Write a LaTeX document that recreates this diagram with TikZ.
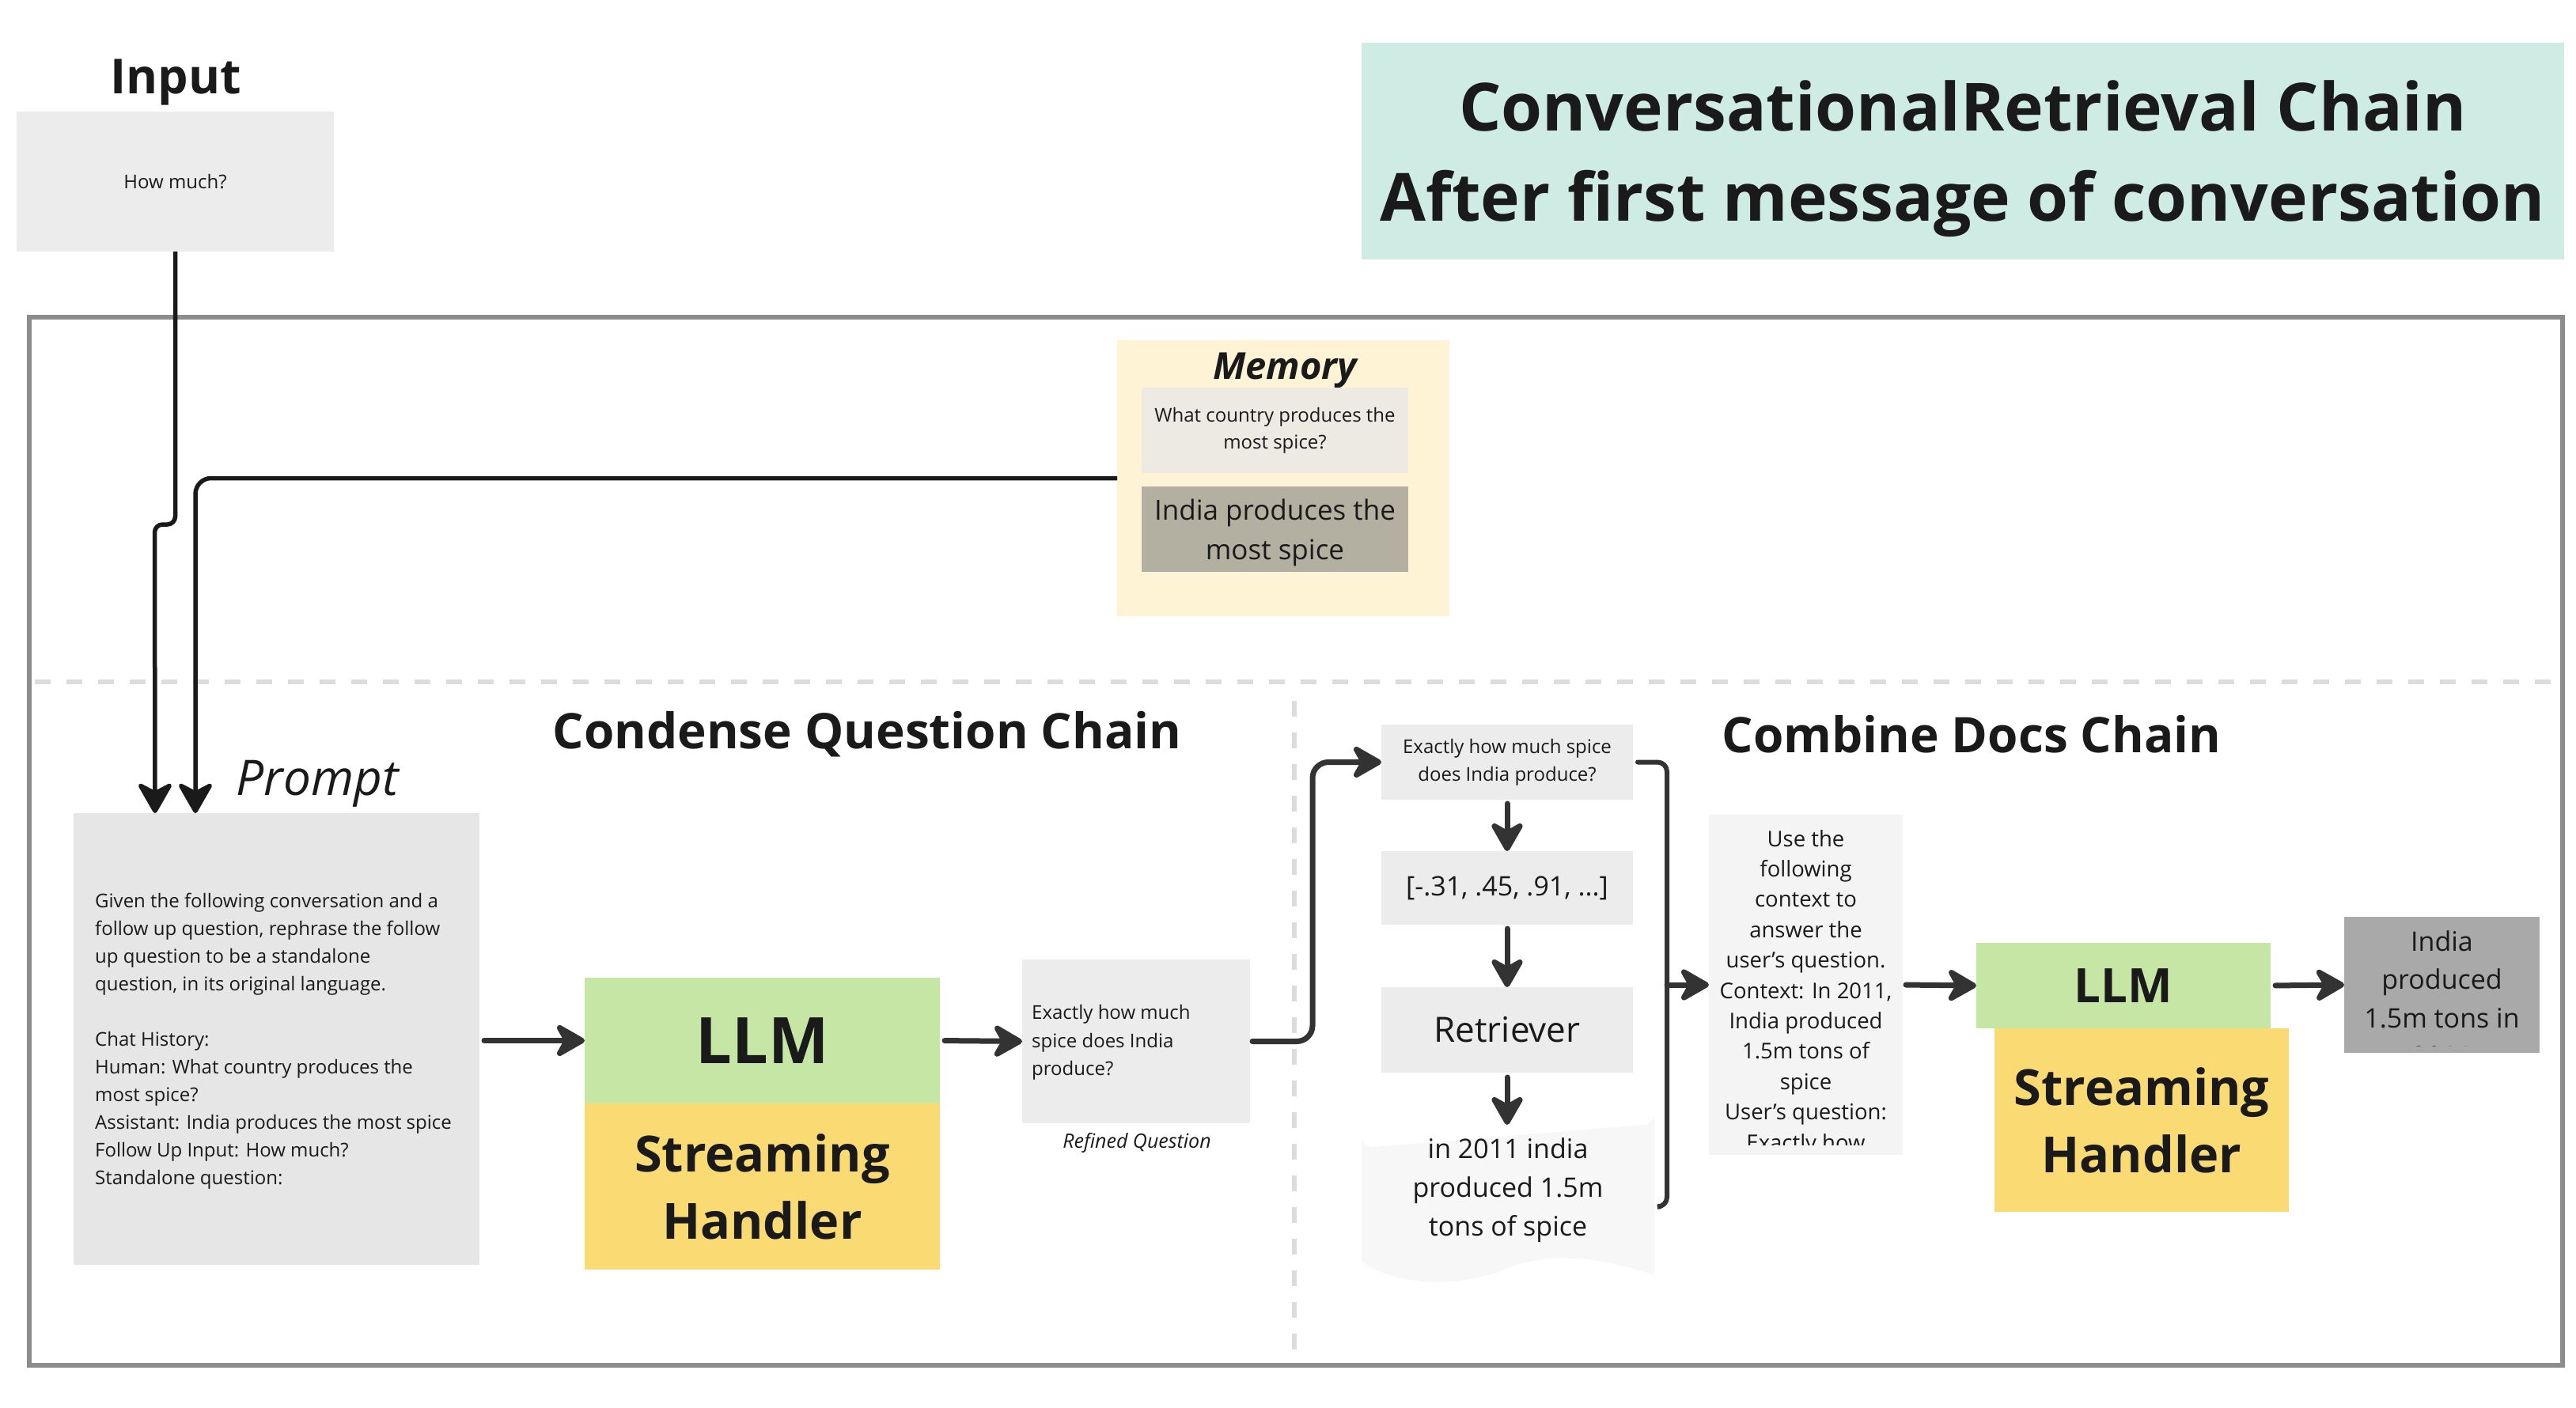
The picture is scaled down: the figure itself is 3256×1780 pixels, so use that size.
\documentclass[tikz,border=0pt]{standalone}
\usepackage{fontspec}
\setmainfont{Open Sans}
\usetikzlibrary{arrows.meta,calc}

\definecolor{inkc}{HTML}{1A1A1A}
\definecolor{arrowc}{HTML}{333333}
\definecolor{boxgray}{HTML}{ECECEC}
\definecolor{promptc}{HTML}{E6E6E6}
\definecolor{titlec}{HTML}{CFECE4}
\definecolor{memc}{HTML}{FEF3D5}
\definecolor{memqc}{HTML}{ECEAE2}
\definecolor{memac}{HTML}{B3B0A2}
\definecolor{llmc}{HTML}{C5E6A5}
\definecolor{streamc}{HTML}{FADA72}
\definecolor{docc}{HTML}{F7F7F7}
\definecolor{ctxc}{HTML}{F4F4F4}
\definecolor{outc}{HTML}{A9A9A9}
\definecolor{framec}{HTML}{8C8C8C}
\definecolor{dashc}{HTML}{DCDCDC}

\newcommand{\fs}[2]{\fontsize{#1}{#2}\selectfont}

\begin{document}
\begin{tikzpicture}[x=1pt,y=-1pt,
  every node/.style={text=inkc},
  box/.style={rectangle, inner sep=0pt, outer sep=0pt, draw=none},
  arr/.style={draw=arrowc, line width=7pt, line cap=round,
    -{Stealth[length=44pt,width=50pt,inset=14pt,round]}},
  thinarr/.style={draw=inkc, line width=5.5pt,
    -{Stealth[length=44pt,width=50pt,inset=13pt,round]}},
  plainline/.style={draw=arrowc, line width=7pt, line cap=round},
  hdr/.style={font=\fs{62}{70}\bfseries}
]
\useasboundingbox (0,0) rectangle (3256,1780);

% ---------- header ----------
\node[hdr, font=\fs{61}{70}\bfseries] (inlabel) at (222,104) {Input};
\node[box, fill=boxgray, minimum width=401pt, minimum height=177pt] (inbox) at (221.5,229.5) {\fs{24}{30}How much?};

\node[box, fill=titlec, minimum width=1520pt, minimum height=274pt] (title) at (2481,191) {};
\node[align=center, inner sep=0pt, font=\fs{84}{114}\bfseries] (titletext) at (2481,201)
  {ConversationalRetrieval Chain\\After first message of conversation};

% ---------- frame and separators ----------
\draw[framec, line width=6pt] (37,401) rectangle (3239,1726);
\draw[dashc, line width=6pt, dash pattern=on 20pt off 20pt] (44,862) -- (3232,862);
\draw[dashc, line width=6pt, dash pattern=on 20pt off 20pt] (1636,886) -- (1636,1722);

% ---------- memory ----------
\node[box, fill=memc, minimum width=420pt, minimum height=349pt] (memory) at (1622,604.5) {};
\node[font=\fs{47}{56}\bfseries\itshape] (memlabel) at (1624,468) {Memory};
\node[box, fill=memqc, minimum width=337pt, minimum height=108pt, align=center,
  font=\fs{24}{34}] (memq) at (1611.5,544) {What country produces the\\most spice?};
\node[box, fill=memac, minimum width=337pt, minimum height=108pt] (mema) at (1611.5,669) {};
\node[align=center, inner sep=0pt, font=\fs{35}{50}] (matext) at (1611.5,673) {India produces the\\most spice};

% ---------- condense question chain ----------
\node[hdr] (cqlabel) at (1096,928) {Condense Question Chain};
\node[font=\fs{62}{70}\itshape] (promptlabel) at (401,991) {Prompt};
\node[box, fill=promptc, minimum width=513pt, minimum height=571pt] (prompt) at (349.5,1313.5) {};
\node[anchor=west, align=left, inner sep=0pt, font=\fs{24}{35}] (prompttext) at (120,1316)
  {Given the following conversation and a\\
   follow up question, rephrase the follow\\
   up question to be a standalone\\
   question, in its original language.\\[35pt]
   Chat History:\\
   Human: What country produces the\\
   most spice?\\
   Assistant: India produces the most spice\\
   Follow Up Input: How much?\\
   Standalone question:};

\node[box, fill=llmc, minimum width=449pt, minimum height=159pt,
  font=\fs{81}{90}\bfseries] (llm1) at (963.5,1315.5) {LLM};
\node[box, fill=streamc, minimum width=449pt, minimum height=210pt, align=center,
  font=\fs{63}{85}\bfseries] (sh1) at (963.5,1500) {Streaming\\Handler};

\node[box, fill=boxgray, minimum width=288pt, minimum height=207pt] (refined) at (1436,1316.5) {};
\node[anchor=west, align=left, inner sep=0pt, font=\fs{24}{35.5}] (refinedtext) at (1304,1318)
  {Exactly how much\\spice does India\\produce?};
\node[font=\fs{25}{30}\itshape] (refinedlabel) at (1437,1445) {Refined Question};

% ---------- combine docs chain ----------
\node[hdr] (cdlabel) at (2492,928) {Combine Docs Chain};

\node[box, fill=boxgray, minimum width=318pt, minimum height=95pt, align=center,
  font=\fs{24}{35}] (query) at (1905,963.5) {Exactly how much spice\\does India produce?};
\node[box, fill=boxgray, minimum width=318pt, minimum height=93pt,
  font=\fs{34}{40}] (embed) at (1905,1122.5) {[-.31, .45, .91, ...]};
\node[box, fill=boxgray, minimum width=318pt, minimum height=108pt,
  font=\fs{44}{50}] (retr) at (1905,1302) {Retriever};

% retrieved document sheet with a wavy lower edge
\fill[docc] (1721,1595) -- (1721,1436) arc[start angle=180, end angle=270, radius=14pt]
  -- (2077,1422) arc[start angle=270, end angle=360, radius=14pt] -- (2091,1612)
  .. controls (2010,1585) and (1950,1585) .. (1906,1603)
  .. controls (1850,1628) and (1770,1628) .. (1721,1595) -- cycle;
\node[align=center, inner sep=0pt, font=\fs{34}{49}] (doc) at (1906,1505)
  {in 2011 india\\produced 1.5m\\tons of spice};

\node[box, fill=ctxc, minimum width=245pt, minimum height=430pt] (context) at (2282.5,1245) {};
\begin{scope}
  \clip (2160,1030) rectangle (2405,1447);
  \node[anchor=north, align=center, inner sep=0pt, font=\fs{27.5}{38.4}] (ctxtext) at (2282.5,1049)
    {Use the\\following\\context to\\answer the\\user's question.\\Context: In 2011,\\India produced\\1.5m tons of\\spice\\User's question:\\Exactly how};
\end{scope}

\node[box, fill=llmc, minimum width=372pt, minimum height=108pt,
  font=\fs{60}{70}\bfseries] (llm2) at (2684,1246) {LLM};
\node[box, fill=streamc, minimum width=372pt, minimum height=232pt, align=center,
  font=\fs{63}{85}\bfseries] (sh2) at (2707,1416) {Streaming\\Handler};

\node[box, fill=outc, minimum width=247pt, minimum height=172pt] (out) at (3086.5,1245) {};
\begin{scope}
  \clip (2963,1159) rectangle (3210,1322);
  \node[anchor=north, align=center, inner sep=0pt, font=\fs{34}{48.5}] (outtext) at (3086.5,1176)
    {India\\produced\\1.5m tons in\\2011};
\end{scope}

% ---------- connectors ----------
\draw[thinarr, rounded corners=10pt] (inbox.south) -- ++(0,345) -- ++(-26,0)
  -- ([xshift=103pt]prompt.north west);
\draw[thinarr, rounded corners=20pt] (memory.west) -| ([xshift=154pt]prompt.north west);

\draw[arr, shorten <=6pt] (prompt.east |- llm1.west) -- (llm1.west);
\draw[arr, shorten <=6pt] (llm1.east) -- (refined.west);
\draw[arr, rounded corners=20pt, shorten <=3pt] (refined.east) -- ++(79,0) |- (query.west);

\draw[arr, shorten <=5pt] (query.south) -- (embed.north);
\draw[arr, shorten <=5pt] (embed.south) -- (retr.north);
\draw[arr, shorten <=6pt] (retr.south) -- (retr.south |- 0,1422);

\draw[plainline, line width=6pt, rounded corners=12pt] ([xshift=6pt]query.east) -- ++(37,0)
  coordinate (brtop) -- ++(0,562) -- ++(-9,0);
\coordinate (brmid) at (brtop |- context.west);
\draw[arr] (brmid) -- (context.west);

\draw[arr, shorten <=4pt] (context.east) -- (llm2.west);
\draw[arr, shorten <=6pt] (llm2.east) -- (out.west);
\end{tikzpicture}
\end{document}
